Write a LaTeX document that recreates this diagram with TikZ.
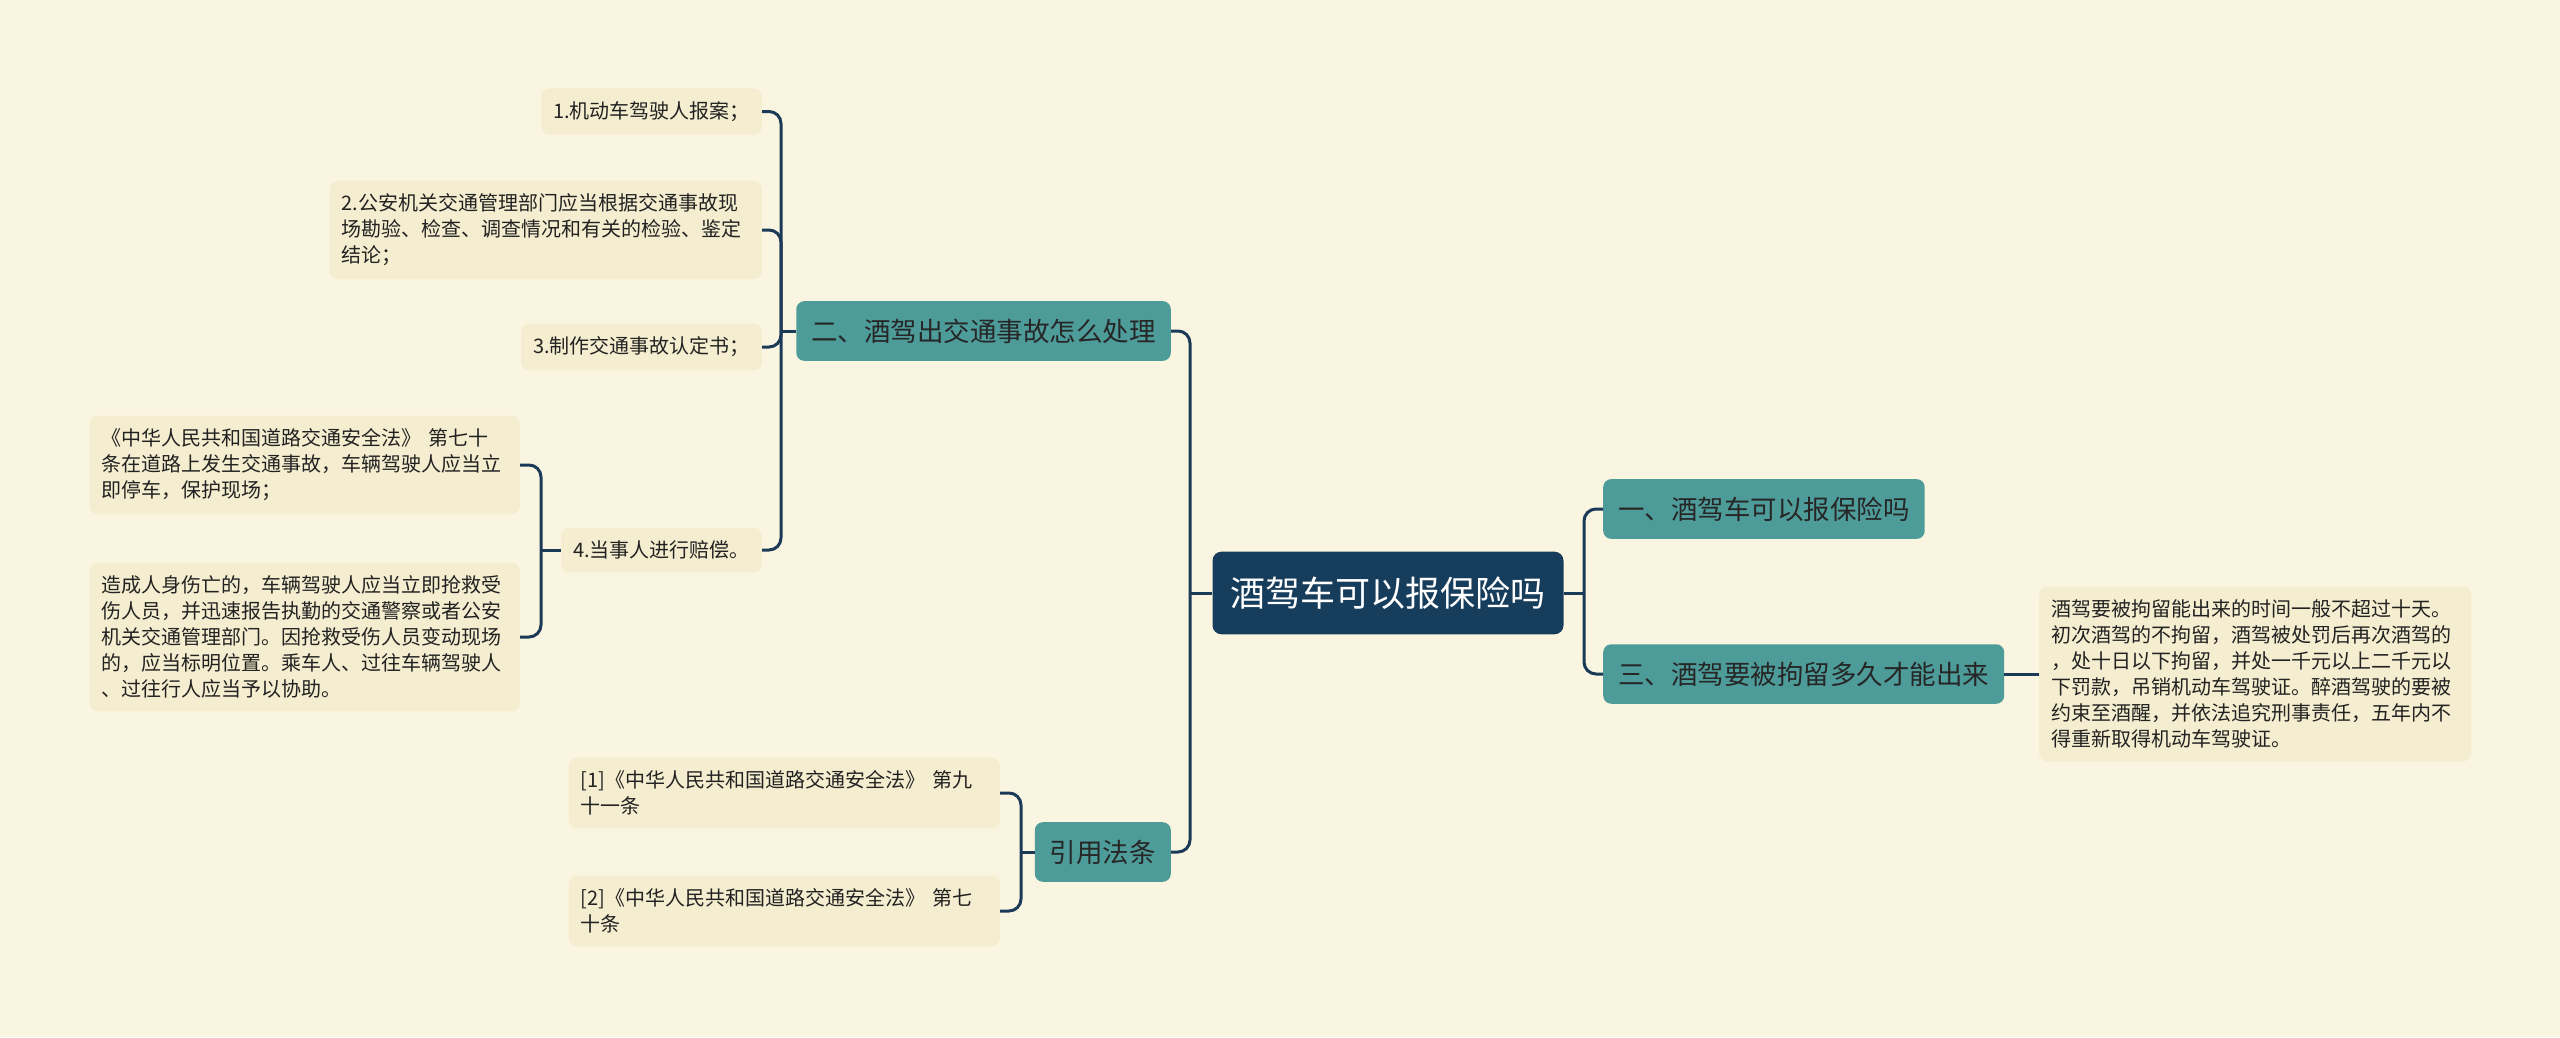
\documentclass[tikz,border=0pt]{standalone}
\usepackage{fontspec}
\setmainfont{Noto Sans CJK SC}
\definecolor{bg}{HTML}{FAF5E0}
\definecolor{leaf}{HTML}{F4EDCF}
\definecolor{teal}{HTML}{4E9C9A}
\definecolor{navy}{HTML}{173D5C}
\definecolor{conn}{HTML}{1B3A57}
\definecolor{txt}{HTML}{222222}
\begin{document}
\begin{tikzpicture}[x=1pt,y=-1pt,
  leafbox/.style={fill=leaf,rounded corners=8pt,inner xsep=12pt,inner ysep=13pt,
    font=\fontsize{20}{26}\selectfont,text=txt,align=left},
  topicbox/.style={fill=teal,rounded corners=8pt,inner xsep=15pt,inner ysep=17.5pt,
    font=\fontsize{26.5}{32}\selectfont,text=black!85},
  rootbox/.style={fill=navy,rounded corners=9pt,inner xsep=18pt,inner ysep=25pt,
    font=\fontsize{35}{42}\selectfont,text=white},
  link/.style={draw=conn,line width=3pt},
  curvelink/.style={link,rounded corners=12pt}]
\fill[bg] (0,0) rectangle (2560,1037);
\useasboundingbox (0,0) rectangle (2560,1037);

% root and main topics
\node[rootbox] (root) at (1388,593) {酒驾车可以报保险吗};
\node[topicbox,anchor=west] (b1) at (1603,509) {一、酒驾车可以报保险吗};
\node[topicbox,anchor=west] (b3) at (1603,674) {三、酒驾要被拘留多久才能出来};
\node[topicbox,anchor=east] (b2) at (1171,331) {二、酒驾出交通事故怎么处理};
\node[topicbox,anchor=east] (b4) at (1171,852) {引用法条};

% leaves
\node[leafbox,anchor=west,text width=408pt] (det) at (2039,674) {酒驾要被拘留能出来的时间一般不超过十天。\\初次酒驾的不拘留，酒驾被处罚后再次酒驾的\\，处十日以下拘留，并处一千元以上二千元以\\下罚款，吊销机动车驾驶证。醉酒驾驶的要被\\约束至酒醒，并依法追究刑事责任，五年内不\\得重新取得机动车驾驶证。};
\node[leafbox,anchor=east] (n1) at (762,111.5) {1.机动车驾驶人报案；};
\node[leafbox,anchor=east,text width=408pt] (n2) at (762,230) {2.公安机关交通管理部门应当根据交通事故现\\场勘验、检查、调查情况和有关的检验、鉴定\\结论；};
\node[leafbox,anchor=east] (n3) at (762,347) {3.制作交通事故认定书；};
\node[leafbox,anchor=east] (n4) at (762,550) {4.当事人进行赔偿。};
\node[leafbox,anchor=east,text width=406pt] (l1) at (520,465) {《中华人民共和国道路交通安全法》 第七十\\条在道路上发生交通事故，车辆驾驶人应当立\\即停车，保护现场；};
\node[leafbox,anchor=east,text width=406pt] (l2) at (520,637) {造成人身伤亡的，车辆驾驶人应当立即抢救受\\伤人员，并迅速报告执勤的交通警察或者公安\\机关交通管理部门。因抢救受伤人员变动现场\\的，应当标明位置。乘车人、过往车辆驾驶人\\、过往行人应当予以协助。};
\node[leafbox,anchor=east,text width=407pt] (r1) at (1000,793) {[1]《中华人民共和国道路交通安全法》 第九\\十一条};
\node[leafbox,anchor=east,text width=407pt] (r2) at (1000,911) {[2]《中华人民共和国道路交通安全法》 第七\\十条};

% junctions
\coordinate (jL) at (1190,593);
\coordinate (jR) at (1584,593);
\coordinate (j2) at (781,331);
\coordinate (j4) at (541,550);
\coordinate (j5) at (1021,852);

% connectors
\draw[link] (root.west) -- (jL);
\draw[curvelink] (jL) |- (b2.east);
\draw[curvelink] (jL) |- (b4.east);
\draw[link] (root.east) -- (jR);
\draw[curvelink] (jR) |- (b1.west);
\draw[curvelink] (jR) |- (b3.west);
\draw[link] (b3.east) -- (det.west);
\draw[link] (b2.west) -- (j2);
\draw[curvelink] (j2) |- (n1.east);
\draw[curvelink] (j2) |- (n2.east);
\draw[curvelink] (j2) |- (n3.east);
\draw[curvelink] (j2) |- (n4.east);
\draw[link] (n4.west) -- (j4);
\draw[curvelink] (j4) |- (l1.east);
\draw[curvelink] (j4) |- (l2.east);
\draw[link] (b4.west) -- (j5);
\draw[curvelink] (j5) |- (r1.east);
\draw[curvelink] (j5) |- (r2.east);
\end{tikzpicture}
\end{document}
